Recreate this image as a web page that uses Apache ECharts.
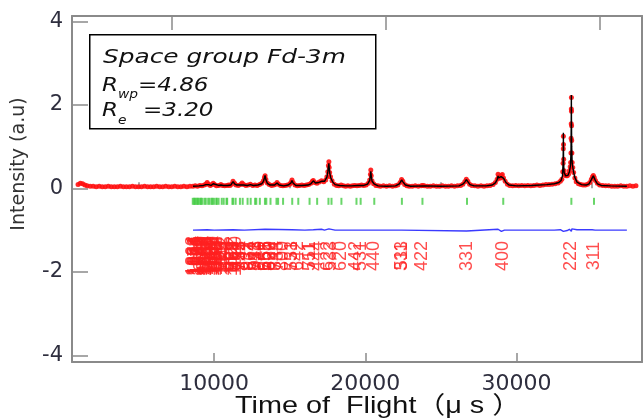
<!DOCTYPE html>
<html>
<head>
<meta charset="utf-8">
<script src="https://cdn.jsdelivr.net/npm/echarts@6/dist/echarts.min.js"></script>
<style>
  html, body { margin: 0; padding: 0; background: #fff; }
  #chart { width: 643px; height: 419px; }
</style>
</head>
<body>
<div id="chart"></div>
<script>
// Rietveld refinement of a TOF neutron pattern (space group Fd-3m)

// Observed intensities: [time of flight (us), intensity]
const observed = [
  [1000,0.09],[1150,0.12],[1300,0.11],[1450,0.08],[1600,0.06],[1800,0.05],[2000,0.05],[2200,0.04],
  [2400,0.05],[2600,0.04],[2800,0.04],[3000,0.05],[3200,0.04],[3400,0.04],[3600,0.04],[3800,0.05],
  [4000,0.04],[4200,0.04],[4400,0.04],[4600,0.05],[4800,0.04],[5000,0.04],[5200,0.04],[5400,0.05],
  [5600,0.04],[5800,0.04],[6000,0.04],[6200,0.05],[6400,0.04],[6600,0.04],[6800,0.05],[7000,0.04],
  [7200,0.04],[7400,0.05],[7600,0.04],[7800,0.04],[8000,0.05],[8200,0.04],[8400,0.05],
  [8600,0.05],[8750,0.06],[8900,0.05],[9050,0.07],[9200,0.06],[9350,0.08],[9450,0.10],[9540,0.14],
  [9630,0.10],[9750,0.07],[9850,0.09],[9940,0.12],[10030,0.09],[10150,0.06],[10300,0.07],[10450,0.09],
  [10550,0.07],[10700,0.06],[10850,0.07],[10950,0.08],[11050,0.07],[11150,0.10],[11250,0.17],[11350,0.12],
  [11450,0.08],[11600,0.07],[11750,0.09],[11850,0.13],[11950,0.09],[12100,0.07],[12250,0.08],[12400,0.10],
  [12550,0.07],[12700,0.08],[12850,0.07],[13000,0.09],[13150,0.12],[13260,0.18],[13330,0.26],[13370,0.30],
  [13420,0.22],[13520,0.13],[13650,0.09],[13800,0.07],[13950,0.08],[14060,0.10],[14160,0.14],[14260,0.10],
  [14400,0.07],[14550,0.06],[14700,0.07],[14850,0.08],[15000,0.10],[15080,0.14],[15150,0.20],[15220,0.14],
  [15350,0.08],[15500,0.06],[15650,0.07],[15800,0.08],[15950,0.07],[16100,0.08],[16250,0.09],[16400,0.12],
  [16500,0.17],[16560,0.19],[16650,0.14],[16800,0.12],[16950,0.15],[17100,0.18],[17250,0.16],[17380,0.20],
  [17460,0.28],[17520,0.40],[17560,0.55],[17590,0.64],[17610,0.50],[17640,0.38],[17700,0.28],[17800,0.18],
  [17950,0.10],[18100,0.07],[18250,0.06],[18400,0.08],[18550,0.06],[18700,0.05],[18850,0.06],[19000,0.05],
  [19150,0.06],[19300,0.07],[19450,0.06],[19600,0.07],[19750,0.08],[19900,0.07],[20050,0.08],[20200,0.12],
  [20290,0.20],[20340,0.34],[20362,0.44],[20390,0.30],[20440,0.18],[20550,0.11],[20700,0.07],[20850,0.06],
  [21000,0.05],[21200,0.06],[21400,0.05],[21600,0.06],[21800,0.05],[22000,0.06],[22150,0.08],[22300,0.14],
  [22400,0.21],[22480,0.17],[22600,0.09],[22750,0.06],[22900,0.05],[23100,0.05],[23300,0.06],[23500,0.05],
  [23700,0.06],[23800,0.07],[23900,0.06],[24100,0.05],[24300,0.05],[24500,0.06],[24700,0.05],[24900,0.05],
  [25100,0.06],[25300,0.05],[25500,0.05],[25700,0.06],[25900,0.05],[26100,0.06],[26300,0.07],[26450,0.10],
  [26580,0.16],[26680,0.22],[26780,0.17],[26900,0.10],[27050,0.07],[27250,0.06],[27450,0.05],[27650,0.06],
  [27850,0.05],[28050,0.06],[28250,0.07],[28450,0.09],[28600,0.14],[28720,0.22],[28780,0.34],[28820,0.26],
  [28900,0.24],[28980,0.30],[29060,0.33],[29140,0.25],[29250,0.17],[29400,0.10],[29550,0.07],[29750,0.06],
  [29950,0.07],[30150,0.06],[30350,0.07],[30550,0.06],[30750,0.07],[30950,0.06],[31150,0.07],[31350,0.08],
  [31550,0.07],[31750,0.08],[31950,0.09],[32150,0.09],[32350,0.10],[32550,0.11],[32750,0.13],[32900,0.17],
  [33000,0.22],[33060,0.40],[33080,0.60],[33095,0.95],[33100,1.25],[33108,1.05],[33120,0.70],[33150,0.42],
  [33200,0.32],[33280,0.30],[33360,0.30],[33440,0.34],[33500,0.42],[33550,0.52],[33580,0.62],[33600,0.85],
  [33612,1.20],[33620,1.55],[33626,1.90],[33630,2.18],[33636,1.85],[33642,1.50],[33650,1.15],[33662,0.85],
  [33680,0.62],[33720,0.50],[33780,0.38],[33860,0.25],[33950,0.16],[34100,0.11],[34250,0.09],[34400,0.08],
  [34550,0.08],[34700,0.10],[34850,0.14],[34950,0.22],[35030,0.28],[35080,0.31],[35140,0.26],[35220,0.19],
  [35350,0.12],[35500,0.08],[35700,0.07],[35900,0.06],[36100,0.06],[36300,0.05],[36500,0.05],[36700,0.05],
  [36900,0.06],[37100,0.05],[37300,0.05],[37500,0.06],[37700,0.05],[37900,0.06]
];

// Calculated profile
const calculated = [
  [8600,0.05],[9000,0.06],[9300,0.07],[9450,0.09],[9540,0.13],[9630,0.09],[9800,0.07],[9940,0.11],
  [10050,0.08],[10300,0.07],[10450,0.08],[10600,0.07],[10900,0.07],[11100,0.08],[11250,0.16],[11350,0.11],
  [11500,0.08],[11750,0.08],[11850,0.12],[11950,0.08],[12200,0.07],[12400,0.09],[12600,0.07],[12900,0.08],
  [13150,0.11],[13260,0.17],[13330,0.25],[13370,0.31],[13420,0.21],[13520,0.12],[13700,0.08],[14000,0.08],
  [14160,0.13],[14300,0.08],[14600,0.06],[14900,0.08],[15080,0.13],[15150,0.19],[15220,0.13],[15400,0.07],
  [15800,0.07],[16200,0.08],[16400,0.11],[16560,0.18],[16700,0.13],[16900,0.14],[17100,0.17],[17300,0.17],
  [17460,0.27],[17520,0.40],[17560,0.52],[17590,0.60],[17615,0.48],[17650,0.36],[17720,0.25],[17850,0.15],
  [18000,0.09],[18300,0.07],[18700,0.06],[19100,0.06],[19500,0.07],[19900,0.07],[20150,0.10],[20290,0.19],
  [20340,0.32],[20362,0.41],[20390,0.30],[20450,0.17],[20600,0.10],[20850,0.06],[21400,0.05],[22000,0.06],
  [22250,0.11],[22400,0.20],[22500,0.15],[22650,0.08],[23000,0.05],[24000,0.06],[25000,0.05],[26200,0.06],
  [26450,0.10],[26580,0.15],[26680,0.21],[26780,0.16],[26920,0.09],[27200,0.06],[28000,0.06],[28400,0.08],
  [28600,0.13],[28720,0.21],[28780,0.30],[28820,0.25],[28900,0.24],[28980,0.28],[29060,0.31],[29150,0.24],
  [29300,0.14],[29500,0.08],[30000,0.06],[31000,0.07],[32000,0.09],[32500,0.11],[32800,0.14],[32950,0.19],
  [33040,0.30],[33080,0.60],[33095,1.00],[33100,1.33],[33106,1.00],[33115,0.60],[33150,0.38],[33250,0.30],
  [33400,0.31],[33500,0.40],[33570,0.55],[33605,0.90],[33620,1.60],[33628,2.24],[33636,1.60],[33650,1.00],
  [33680,0.62],[33750,0.44],[33850,0.27],[34000,0.15],[34300,0.09],[34600,0.08],[34800,0.11],[34950,0.21],
  [35080,0.30],[35200,0.20],[35350,0.11],[35600,0.07],[36200,0.06],[37300,0.05]
];

// Difference curve, drawn shifted below the pattern
const difference = [
  [8600,-1.00],[9540,-0.99],[10000,-1.00],[11250,-0.99],[12000,-1.00],[13370,-0.98],[13420,-1.00],
  [15150,-0.99],[16000,-1.00],[16560,-0.99],[17100,-0.98],[17300,-1.00],[17590,-0.97],[17640,-1.01],
  [18000,-1.00],[20300,-1.00],[20362,-0.98],[20400,-1.02],[20500,-1.00],[22400,-1.00],[26700,-1.02],
  [26780,-1.00],[28780,-0.98],[28900,-1.00],[29000,-1.03],[29100,-0.99],[29200,-1.00],[32500,-1.00],
  [32900,-0.99],[33000,-0.98],[33100,-1.03],[33200,-0.99],[33350,-1.01],[33500,-0.98],[33600,-1.00],
  [33628,-1.03],[33660,-0.97],[33750,-1.00],[34000,-0.99],[35000,-0.99],[35080,-0.98],[35200,-1.00],
  [37300,-1.00]
];

// Bragg reflection positions (us)
const braggTof = [
  35124,33628,29123,26725,23779,22419,20593,19691,19415,18419,17764,17562,16814,16312,15567,15166,
  14561,14232,14126,13729,13451,13362,13024,12787,12710,12418,12212,11889,11708,11423,11262,11209,
  10863,10816,10634,10504,10296,10178,10139,9989,9881,9845,9708,9608,9449,9357,9209,9124,9096,8987,
  8908,8882,8781,8707,8683,8588
];
const braggLevel = -0.31;

// Miller indices of the reflections: [tof, hkl]
const hklLabels = [
  [35124,'311'],[33628,'222'],[29123,'400'],[26725,'331'],[23779,'422'],[22419,'511'],[22419,'333'],
  [20593,'440'],[19691,'531'],[19415,'442'],[18419,'620'],[17764,'533'],[17562,'622'],[16814,'444'],
  [16312,'711'],[16312,'551'],[15567,'642'],[15166,'731'],[15166,'553'],[14561,'800'],[14232,'733'],
  [14126,'644'],[13729,'822'],[13729,'660'],[13451,'751'],[13451,'555'],[13362,'662'],[13024,'840'],
  [12787,'753'],[12787,'911'],[12710,'842'],[12418,'664'],[12212,'931'],[11889,'844'],[11708,'933'],
  [11708,'771'],[11708,'755'],[11423,'1020'],[11423,'862'],[11262,'951'],[11262,'773'],[11209,'1022'],
  [11209,'666'],[10863,'953'],[10816,'864'],[10634,'1042'],[10504,'1111'],[10504,'775'],[10296,'880'],
  [10178,'1131'],[10178,'971'],[10178,'955'],[10139,'1044'],[10139,'882'],[9989,'1060'],[9989,'866'],
  [9881,'1133'],[9881,'973'],[9845,'1062'],[9708,'1200'],[9708,'884'],[9608,'1151'],[9608,'777'],
  [9449,'1222'],[9449,'1064'],[9357,'1153'],[9357,'975'],[9209,'1240'],[9124,'991'],[9096,'1242'],
  [8987,'1082'],[8908,'1155'],[8908,'1171'],[8908,'1311'],[8882,'1066'],[8781,'1244'],[8707,'1173'],
  [8707,'1331'],[8683,'1084'],[8588,'1262']
];
const hklLevel = -1.62;

// Axis ticks
const xLabelTicks = [10000, 20000, 30000];
const xMinorTicks = [5000, 15000, 25000, 35000];
const xTopTicks = [7200, 21350, 35500];
const yTicks = [-4, -2, 0, 2, 4];
const xRange = [600, 38300];
const yRange = [-4.16, 4.13];

const axisGray = '#8a8a8a';
const tickFont = 'DejaVu Sans, Liberation Sans, sans-serif';
const boxFont = 'italic 20px DejaVu Sans';
const boxSub = 'italic 12px DejaVu Sans';

const chart = echarts.init(document.getElementById('chart'), null, { renderer: 'canvas' });

const baseX = {
  type: 'value', min: xRange[0], max: xRange[1], splitLine: { show: false },
  axisLine: { show: false }, axisLabel: { show: false }
};

function boxText(x, y, text, font, sx) {
  return { type: 'text', x: x, y: y, z: 11, scaleX: sx, scaleY: 1,
    style: { text: text, font: font, fill: '#111', textVerticalAlign: 'middle' } };
}

chart.setOption({
  animation: false,
  backgroundColor: '#fff',
  grid: { left: 72, right: 1, top: 16, bottom: 57, containLabel: false },
  xAxis: [
    Object.assign({}, baseX, {
      position: 'bottom',
      axisLine: { show: true, onZero: false, lineStyle: { color: axisGray, width: 2 } },
      axisTick: { show: true, inside: true, length: 9, customValues: xLabelTicks, lineStyle: { color: axisGray, width: 1.5 } },
      axisLabel: { show: true, customValues: xLabelTicks, margin: 11, fontSize: 22, fontFamily: tickFont,
        color: '#2e2e3e', formatter: v => String(v) }
    }),
    Object.assign({}, baseX, {
      position: 'bottom',
      axisTick: { show: true, inside: true, length: 6, customValues: xMinorTicks, lineStyle: { color: axisGray, width: 1.5 } }
    }),
    Object.assign({}, baseX, {
      position: 'top',
      axisLine: { show: true, onZero: false, lineStyle: { color: axisGray, width: 2 } },
      axisTick: { show: true, inside: true, length: 14, customValues: xTopTicks, lineStyle: { color: axisGray, width: 1.5 } }
    })
  ],
  yAxis: [
    {
      type: 'value', min: yRange[0], max: yRange[1], position: 'left', splitLine: { show: false },
      axisLine: { show: true, onZero: false, lineStyle: { color: axisGray, width: 2 } },
      axisTick: { show: true, inside: true, length: 16, customValues: yTicks, lineStyle: { color: axisGray, width: 1.5 } },
      axisLabel: { show: true, customValues: yTicks, margin: 9, fontSize: 21, fontFamily: tickFont, color: '#2e2e3e' }
    },
    {
      type: 'value', min: yRange[0], max: yRange[1], position: 'right', splitLine: { show: false },
      axisLine: { show: true, onZero: false, lineStyle: { color: axisGray, width: 2 } },
      axisTick: { show: false }, axisLabel: { show: false }
    }
  ],
  series: [
    {
      name: 'Observed', type: 'scatter', data: observed, symbol: 'circle', symbolSize: 5,
      itemStyle: { color: '#ff1010', opacity: 0.9 }, z: 2, silent: true
    },
    {
      name: 'Calculated', type: 'line', data: calculated, showSymbol: false,
      lineStyle: { color: '#000', width: 1.4 }, z: 3, silent: true
    },
    {
      name: 'Difference', type: 'line', data: difference, showSymbol: false,
      lineStyle: { color: '#3a3aff', width: 1.4 }, z: 3, silent: true
    },
    {
      name: 'Bragg', type: 'scatter', data: braggTof.map(t => [t, braggLevel]),
      symbol: 'rect', symbolSize: [2, 7], itemStyle: { color: '#44cc44' }, z: 3, silent: true
    },
    {
      name: 'hkl', type: 'scatter', symbolSize: 0, z: 4, silent: true,
      data: hklLabels.map(d => ({ value: [d[0], hklLevel], name: d[1] })),
      label: {
        show: true, formatter: p => p.name, rotate: 90, position: 'inside',
        align: 'center', verticalAlign: 'middle',
        fontSize: 18, fontFamily: 'Liberation Sans, sans-serif', color: '#ff2020'
      }
    }
  ],
  graphic: [
    { type: 'rect', left: 89, top: 34, shape: { width: 286, height: 94 },
      style: { fill: '#fff', stroke: '#000', lineWidth: 1.5 }, z: 10 },
    boxText(103, 58, 'Space group Fd-3m', boxFont, 1.24),
    boxText(102, 86, 'R', boxFont, 1.15),
    boxText(118, 95, 'wp', boxSub, 1.15),
    boxText(138, 86, '=4.86', boxFont, 1.15),
    boxText(102, 111, 'R', boxFont, 1.15),
    boxText(118, 121, 'e', boxSub, 1.15),
    boxText(143, 111, '=3.20', boxFont, 1.15),
    { type: 'text', x: 19, y: 164, rotation: Math.PI / 2, z: 11,
      style: { text: 'Intensity (a.u)', font: '19px DejaVu Sans', fill: '#333', textAlign: 'center', textVerticalAlign: 'middle' } },
    { type: 'text', x: 378, y: 406, z: 11, scaleX: 1.2, originX: 0, originY: 0,
      style: { text: 'Time of  Flight（μ s ）', font: '24px Liberation Sans, Noto Sans CJK KR', fill: '#111', textAlign: 'center', textVerticalAlign: 'middle' } }
  ]
});
</script>
</body>
</html>
